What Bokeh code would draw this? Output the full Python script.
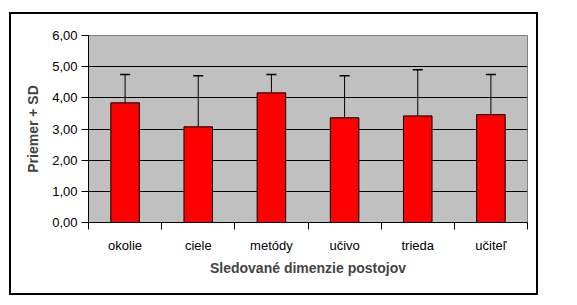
from bokeh.plotting import figure
from bokeh.models import (ColumnDataSource, FixedTicker, CustomJSTickFormatter,
                          Whisker, Range1d, LinearAxis, InlineStyleSheet)
from bokeh.embed import file_html
from bokeh.resources import INLINE

categories = ["okolie", "ciele", "metódy", "učivo", "trieda", "učiteľ"]
means = [3.84, 3.07, 4.16, 3.36, 3.42, 3.46]
sds = [0.91, 1.64, 0.59, 1.35, 1.48, 1.29]
y_ticks = [0, 1, 2, 3, 4, 5, 6]

xpos = [i + 0.5 for i in range(len(categories))]
upper = [m + s for m, s in zip(means, sds)]
src = ColumnDataSource(dict(x=xpos, top=means, upper=upper, cat=categories))

p = figure(width=577, height=305, output_backend="svg", toolbar_location=None,
           x_range=Range1d(0, len(categories)), y_range=Range1d(0, 6),
           min_border_left=88, min_border_right=50, min_border_top=35,
           min_border_bottom=83, x_axis_location=None, y_axis_location=None)

p.background_fill_color = "#C0C0C0"
p.border_fill_color = "white"
p.outline_line_color = "#808080"
p.outline_line_width = 1

p.xgrid.visible = False

# y axis
ya = LinearAxis(ticker=FixedTicker(ticks=y_ticks, minor_ticks=[]),
                formatter=CustomJSTickFormatter(code="return tick.toFixed(2).replace('.', ',');"),
                axis_label="Priemer + SD")
ya.major_tick_in = 0
ya.major_tick_out = 7
ya.major_label_standoff = 4
ya.major_label_text_font = "Liberation Sans"
ya.major_label_text_font_size = "13px"
ya.major_label_text_color = "black"
ya.axis_label_text_font = "Liberation Sans"
ya.axis_label_text_font_style = "bold"
ya.axis_label_text_font_size = "14px"
ya.axis_label_standoff = 8
ya.axis_line_color = "black"
p.add_layout(ya, "left")

# x axis
xa = LinearAxis(ticker=FixedTicker(ticks=xpos, minor_ticks=list(range(len(categories) + 1))),
                major_label_overrides={x: c for x, c in zip(xpos, categories)},
                axis_label="Sledované dimenzie postojov")
xa.major_tick_line_color = None
xa.major_tick_in = 0
xa.major_tick_out = 7
xa.minor_tick_in = 0
xa.minor_tick_out = 7
xa.minor_tick_line_color = "black"
xa.major_label_standoff = 8
xa.major_label_text_font = "Liberation Sans"
xa.major_label_text_font_size = "13px"
xa.major_label_text_color = "black"
xa.axis_label_text_font = "Liberation Sans"
xa.axis_label_text_font_style = "bold"
xa.axis_label_text_font_size = "14px"
xa.axis_label_standoff = 4
xa.axis_line_color = "black"
p.add_layout(xa, "below")

# horizontal gridlines
p.ygrid.visible = True
p.ygrid.ticker = FixedTicker(ticks=y_ticks)
p.ygrid.grid_line_color = "black"
p.ygrid.grid_line_width = 1

p.vbar(x="x", top="top", bottom=0, width=0.39, source=src,
       fill_color="#FF0000", line_color="black", line_width=1)

w = Whisker(base="x", lower="top", upper="upper", source=src,
            line_color="black", line_width=1, lower_head=None)
w.upper_head.size = 10
w.upper_head.line_color = "black"
w.upper_head.line_width = 1.5
p.add_layout(w)

# outer chart-area border
p.stylesheets = [InlineStyleSheet(css="""
:host::after {
  content: '';
  position: absolute;
  left: 9px; top: 12px;
  width: 525px; height: 279px;
  border: 2px solid black;
  pointer-events: none;
  z-index: 10;
}
""")]

open("out.html", "w").write(file_html(p, INLINE))
